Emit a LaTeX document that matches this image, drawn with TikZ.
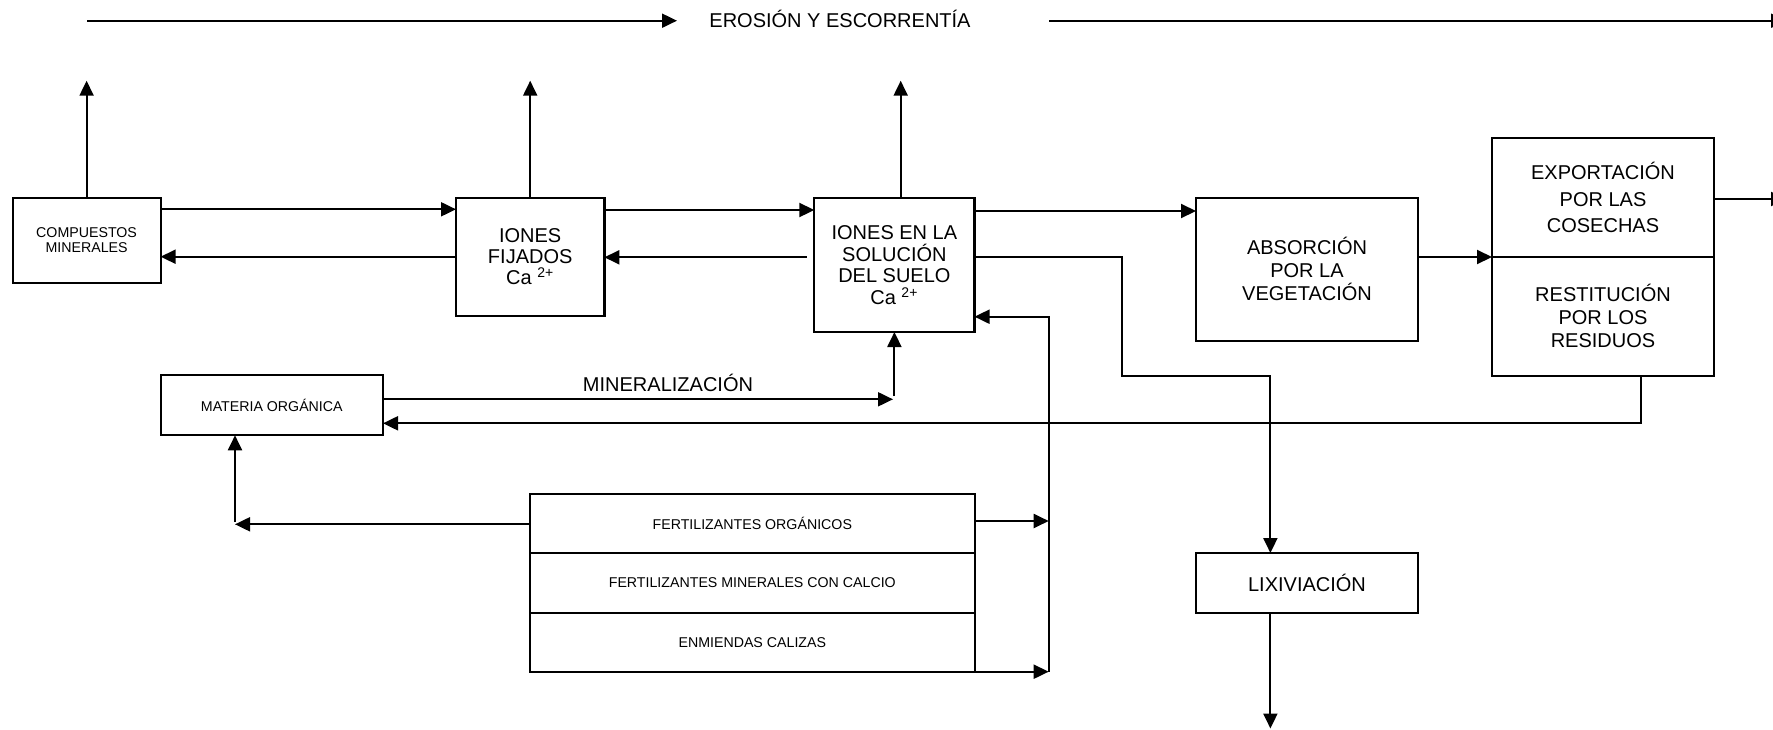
\documentclass[tikz,border=0pt]{standalone}
\usepackage{fontspec}
\setmainfont{Liberation Sans}
\usetikzlibrary{arrows.meta}
\newcommand{\bigtxt}{\fontsize{10}{10.85}\selectfont}
\newcommand{\smalltxt}{\fontsize{7.1}{7.5}\selectfont}
\begin{document}
\begin{tikzpicture}[x=0.5pt,y=-0.5pt,
  box/.style={draw, line width=1.1pt, inner sep=0pt, outer sep=0pt, align=center, font=\bigtxt},
  sbox/.style={box, font=\smalltxt},
  lbl/.style={inner sep=0pt, anchor=base, font=\bigtxt},
  arr/.style={line width=1pt, -{Triangle[length=7.5pt,width=7pt]}},
  ln/.style={line width=1pt}]
\useasboundingbox (0,0) rectangle (1773,729);
\clip (0,0) rectangle (1773,729);

% nodes
\node[sbox, minimum width=74pt, minimum height=42.8pt] (comp) at (86.6,240.5) {COMPUESTOS\\MINERALES};
\node[box, minimum width=74.2pt, minimum height=59.15pt, font={\fontsize{10}{10.6}\selectfont}] (fij) at (530.2,256.9) {IONES\\FIJADOS\\Ca \textsuperscript{2+}};
\node[box, minimum width=80.1pt, minimum height=67pt] (sol) at (894.4,265) {IONES EN LA\\SOLUCIÓN\\DEL SUELO\\Ca \textsuperscript{2+}};
\node[box, minimum width=111pt, minimum height=71.65pt, font={\fontsize{10}{11.5}\selectfont}] (abs) at (1307,269.4) {ABSORCIÓN\\POR LA\\VEGETACIÓN};
\node[box, minimum width=111pt, minimum height=59.35pt, font={\fontsize{10}{13.3}\selectfont}] (exp) at (1603,197.7) {EXPORTACIÓN\\POR LAS\\COSECHAS};
\node[box, minimum width=111pt, minimum height=59.35pt, font={\fontsize{10}{11.5}\selectfont}] (res) at (1603,316.35) {RESTITUCIÓN\\POR LOS\\RESIDUOS};
\node[sbox, minimum width=111.2pt, minimum height=30pt] (mat) at (271.8,405.3) {MATERIA ORGÁNICA};
\node[sbox, minimum width=222.7pt, minimum height=29.65pt] (f1) at (752.3,523.7) {FERTILIZANTES ORGÁNICOS};
\node[sbox, minimum width=222.7pt, minimum height=29.65pt] (f2) at (752.3,583) {FERTILIZANTES MINERALES CON CALCIO};
\node[sbox, minimum width=222.7pt, minimum height=29.65pt] (f3) at (752.3,642.3) {ENMIENDAS CALIZAS};
\node[box, minimum width=111pt, minimum height=30pt] (lix) at (1307,583) {LIXIVIACIÓN};

% labels
\node[lbl] (ero) at (840,27.5) {EROSIÓN Y ESCORRENTÍA};
\node[lbl] (minl) at (668,391.7) {MINERALIZACIÓN};

% coordinates for free ends
\coordinate (ts) at (87,20.7);
\coordinate (tm) at (677,20.7);
\coordinate (tr) at (1049,20.7);
\coordinate (te) at (1786,20.7);
\coordinate (s2) at (806.5,257.3);
\coordinate (feedb) at (1048.7,671.7);
\coordinate (feedt) at (1048.7,316.7);
\coordinate (mup) at (894.4,396);
\coordinate (lixend) at (1270.4,728.5);
\coordinate (exend) at (1786,199);

% top erosion arrow
\draw[arr] (ts) -- (tm);
\draw[arr] (tr) -- (te);

% up arrows to erosion
\draw[arr] (comp.north) -- (comp.north |- 0,80.7);
\draw[arr] (fij.north) -- (fij.north |- 0,80.7);
\draw[arr] (sol.north -| 900.7,0) -- (900.7,80.7);

% horizontal exchanges
\draw[arr] (comp.east |- 0,209.3) -- (fij.west |- 0,209.3);
\draw[arr] (fij.west |- 0,256.7) -- (comp.east |- 0,256.7);
\draw[arr] (fij.east |- 0,210) -- (sol.west |- 0,210);
\draw[arr] (s2) -- (fij.east |- s2);
\draw[arr] (sol.east |- 0,211) -- (abs.west |- 0,211);

% leaching path
\draw[arr] (sol.east |- 0,257.3) -- (1122.3,257.3) -- (1122.3,375.7) -- (1270.4,375.7) -- (lix.north -| 1270.4,0);
\draw[arr] (lix.south -| lixend) -- (lixend);

% vegetation
\draw[arr] (abs.east |- 0,257) -- (exp.west |- 0,257);
\draw[arr] (exp.east |- exend) -- (exend);
\draw[arr] (res.south -| 1640.6,0) -- (1640.6,423.3) -- (mat.east |- 0,423.3);

% mineralization
\draw[arr] (mat.east |- 0,399.3) -- (893,399.3);
\draw[arr] (mup) -- (sol.south -| mup);

% fertilizers feed
\draw[arr] (feedb) -- (feedt) -- (sol.east |- feedt);
\draw[arr] (f1.east |- 0,521) -- (1048.7,521);
\draw[arr] (f3.east |- feedb) -- (feedb);
\draw[arr] (f1.west |- 0,524.3) -- (235,524.3);
\draw[arr] (235,522) -- (mat.south -| 235,0);
\end{tikzpicture}
\end{document}
